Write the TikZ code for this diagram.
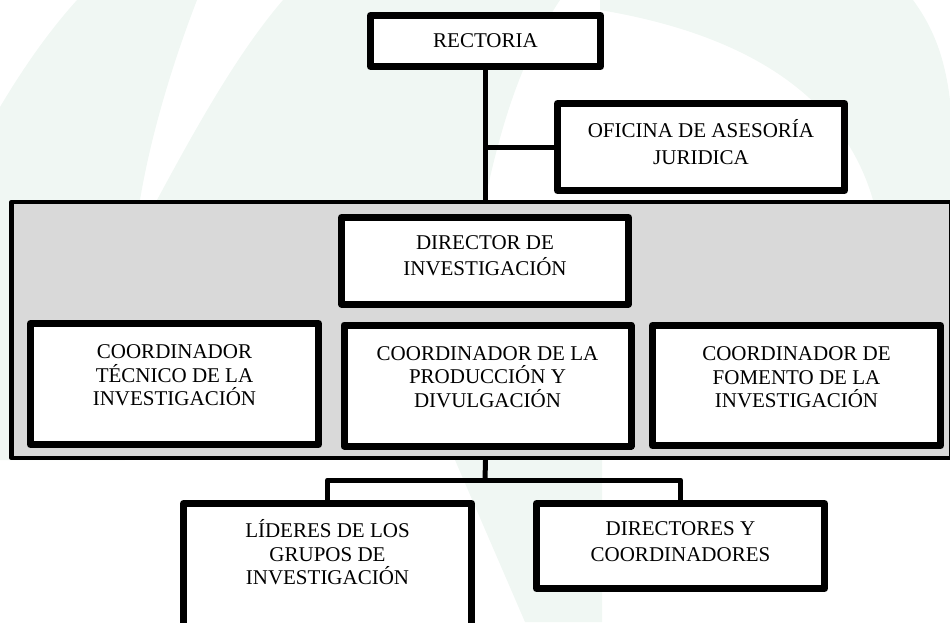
\documentclass[tikz,border=0pt]{standalone}
\usepackage{fontspec}
\setmainfont{Liberation Serif}
\newdimen\unitpx \unitpx=0.75pt
\newcommand{\boxtext}[4]{\parbox[c][#2\unitpx][t]{#1\unitpx}{\centering\vspace*{#3\unitpx}\rule{0pt}{12.3pt}#4}}
\definecolor{wmark}{RGB}{240,247,243}
\definecolor{panelgray}{RGB}{217,217,217}
\begin{document}
\begin{tikzpicture}[x=0.75pt,y=-0.75pt, line join=round, line cap=round,
    orgbox/.style={draw=black, fill=white, line width=7\unitpx, inner sep=0pt, font=\fontsize{15.75}{17.6}\selectfont},
    panelbox/.style={draw=black, fill=panelgray, line width=4.5\unitpx, inner sep=0pt, minimum width=940\unitpx, minimum height=256\unitpx},
    link/.style={line width=5\unitpx}]
    \useasboundingbox (0,0) rectangle (950,622);
    \clip (0,0) rectangle (950,622);
    \fill[wmark] (77,0) -- (197,0) .. controls (170,70) and (150,140) .. (140,200) -- (125,460) -- (0,460) -- (0,107) .. controls (25,65) and (50,30) .. (77,0);
    \fill[wmark] (283,0) -- (560,0) .. controls (520,60) and (500,130) .. (485,200) -- (157,200) .. controls (200,120) and (240,50) .. (283,0);
    \fill[wmark] (600,0) -- (913,0) .. controls (935,30) and (945,60) .. (950,100) -- (950,200) -- (873,200) .. controls (850,120) and (780,40) .. (600,10) -- cycle;
    \fill[wmark] (455,460) -- (602,460) -- (602,622) -- (525,622) -- cycle;

    \node[panelbox] (area) at (481.5,330) {};
    \node[orgbox] (rect) at (485.5,41) {\boxtext{230}{51}{16}{RECTORIA}};
    \node[orgbox] (ofi) at (701,147) {\boxtext{287}{87}{16}{OFICINA DE ASESORÍA\\[4\unitpx]JURIDICA}};
    \node[orgbox] (dir) at (485,260.75) {\boxtext{287}{86.5}{16}{DIRECTOR DE\\[2.5\unitpx]INVESTIGACIÓN}};
    \node[orgbox] (tec) at (174.5,384) {\boxtext{288}{121}{19}{COORDINADOR\\TÉCNICO DE LA\\INVESTIGACIÓN}};
    \node[orgbox] (prod) at (487.5,385.5) {\boxtext{287}{121}{19}{COORDINADOR DE LA\\PRODUCCIÓN Y\\DIVULGACIÓN}};
    \node[orgbox] (fom) at (796.5,385.5) {\boxtext{288}{120}{19}{COORDINADOR DE\\FOMENTO DE LA\\INVESTIGACIÓN}};
    \node[orgbox] (lid) at (327.5,565.75) {\boxtext{288}{124.5}{16}{LÍDERES DE LOS\\GRUPOS DE\\INVESTIGACIÓN}};
    \node[orgbox] (dirs) at (680.5,546) {\boxtext{288}{85}{16}{DIRECTORES Y\\[2.5\unitpx]COORDINADORES}};
    \coordinate (fork) at (485,480);

    \draw[link] (rect.south) -- (rect.south |- area.north);
    \draw[link] (rect.south |- ofi.west) -- (ofi.west);
    \draw[link] (rect.south |- area.south) -- (fork);
    \draw[link] (lid.north) |- (fork) -| (dirs.north);
\end{tikzpicture}
\end{document}
